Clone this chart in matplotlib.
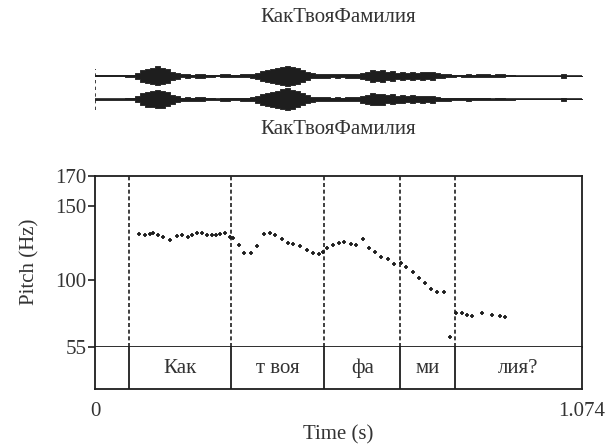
import numpy as np
import matplotlib
matplotlib.use("Agg")
import matplotlib.pyplot as plt

plt.rcParams['font.family'] = ['Liberation Serif', 'DejaVu Serif']

TITLE = "КакТвояФамилия"
T_MAX = 1.074

# pitch track (time s, Hz)
pitch_t = [0.098, 0.111, 0.122, 0.129, 0.140, 0.151, 0.166, 0.181, 0.192, 0.206,
           0.214, 0.225, 0.236, 0.248, 0.258, 0.267, 0.276, 0.287, 0.298, 0.304,
           0.317, 0.329, 0.344, 0.357, 0.372, 0.387, 0.398, 0.413, 0.427, 0.438,
           0.453, 0.468, 0.482, 0.494, 0.503, 0.512, 0.525, 0.538, 0.550, 0.565,
           0.577, 0.592, 0.604, 0.619, 0.631, 0.646, 0.661, 0.676, 0.687, 0.702,
           0.715, 0.729, 0.742, 0.755, 0.771, 0.783, 0.796, 0.810, 0.821, 0.833,
           0.855, 0.877, 0.893, 0.906]
pitch_hz = [130.9, 130.5, 130.9, 131.4, 130.5, 129.1, 126.9, 129.6, 130.3, 129.1,
            130.5, 131.4, 131.8, 130.3, 130.3, 130.5, 130.9, 131.4, 129.1, 128.0,
            123.6, 118.0, 118.4, 122.9, 130.9, 131.8, 130.3, 127.4, 125.1, 124.2,
            122.9, 120.2, 118.0, 117.5, 119.1, 121.3, 123.6, 125.1, 125.8, 124.2,
            123.6, 127.4, 121.3, 119.1, 115.7, 114.0, 110.8, 111.3, 109.0, 105.7,
            101.2, 97.9, 93.9, 92.3, 91.9, 62.1, 77.8, 77.8, 76.6, 76.0,
            78.2, 76.6, 76.0, 75.5]

# interval tier
boundaries = [0.0, 0.0751, 0.3006, 0.5061, 0.6740, 0.7956, 1.074]
labels = ["", "Как", "т воя", "фа", "ми", "лия?"]

# y ticks
yticks = [55, 100, 150, 170]
ymin, ymax = 55, 170

# waveform envelope (time s, relative amplitude) for two channels
env_t = [0.0, 0.066, 0.088, 0.099, 0.110, 0.122, 0.133, 0.144, 0.155, 0.166,
         0.177, 0.188, 0.199, 0.210, 0.221, 0.243, 0.265, 0.276, 0.298, 0.320,
         0.343, 0.354, 0.365, 0.376, 0.387, 0.398, 0.409, 0.420, 0.431, 0.442,
         0.453, 0.464, 0.475, 0.486, 0.519, 0.530, 0.541, 0.552, 0.586, 0.597,
         0.608, 0.619, 0.630, 0.641, 0.652, 0.663, 0.674, 0.685, 0.696, 0.707,
         0.718, 0.729, 0.740, 0.751, 0.762, 0.773, 0.785, 0.796, 0.807, 0.818,
         0.829, 0.840, 0.873, 0.884, 0.906, 0.928, 1.028, 1.039, 1.074]
env_ch1 = [0.03, 0.10, 0.30, 0.60, 0.70, 0.80, 0.95, 0.80, 0.70, 0.40,
           0.30, 0.15, 0.20, 0.10, 0.20, 0.10, 0.05, 0.15, 0.10, 0.15,
           0.20, 0.30, 0.50, 0.60, 0.70, 0.80, 0.90, 1.00, 0.90, 0.80,
           0.60, 0.40, 0.25, 0.20, 0.15, 0.20, 0.15, 0.20, 0.30, 0.40,
           0.60, 0.50, 0.60, 0.40, 0.50, 0.30, 0.40, 0.30, 0.40, 0.30,
           0.40, 0.35, 0.40, 0.25, 0.20, 0.15, 0.10, 0.05, 0.10, 0.15,
           0.10, 0.15, 0.10, 0.15, 0.05, 0.02, 0.20, 0.02, 0.02]
env_ch2 = [0.03, 0.10, 0.30, 0.60, 0.75, 0.80, 0.90, 0.85, 0.70, 0.45,
           0.30, 0.15, 0.20, 0.15, 0.20, 0.10, 0.05, 0.15, 0.10, 0.15,
           0.20, 0.35, 0.55, 0.65, 0.75, 0.85, 1.00, 1.10, 0.95, 0.80,
           0.60, 0.40, 0.25, 0.20, 0.15, 0.20, 0.15, 0.20, 0.35, 0.45,
           0.60, 0.55, 0.55, 0.40, 0.50, 0.35, 0.40, 0.30, 0.40, 0.30,
           0.35, 0.30, 0.35, 0.20, 0.15, 0.15, 0.10, 0.10, 0.10, 0.15,
           0.10, 0.10, 0.05, 0.10, 0.05, 0.02, 0.15, 0.02, 0.02]

INK = "#1e1e1e"
TXT = "#333333"
FS = 15

W, H = 607, 445
fig = plt.figure(figsize=(W / 100, H / 100), dpi=100)

def fbox(x0, y0, x1, y1):
    return [x0 / W, 1 - y1 / H, (x1 - x0) / W, (y1 - y0) / H]

# --- waveform ---
axw = fig.add_axes(fbox(95, 63, 581.5, 112))
axw.set_xlim(0, T_MAX)
axw.set_ylim(-2.08, 2.08)
axw.axis("off")
scale = 0.85
for off, env in ((1.0, env_ch1), (-1.0, env_ch2)):
    e = np.array(env) * scale
    axw.fill_between(env_t, off - e, off + e, step="post", color=INK, lw=0.6,
                     edgecolor=INK)
    axw.plot([0, T_MAX], [off, off], color=INK, lw=1.2)
axw.plot([0, 0], [-1.9, 1.6], color=INK, lw=1.2, ls=(0, (2, 2)))

fig.text(338 / W, 1 - 18 / H, TITLE, ha="center", va="center", fontsize=FS, color=TXT)
fig.text(338 / W, 1 - 129 / H, TITLE, ha="center", va="center", fontsize=FS, color=TXT)

# --- pitch ---
axp = fig.add_axes(fbox(95, 175.7, 581.5, 347.3))
axp.set_xlim(0, T_MAX)
axp.set_ylim(ymin, ymax)
for b in boundaries[1:-1]:
    axp.plot([b, b], [ymin, ymax], color=INK, lw=1.2, ls=(0, (2.4, 1.6)))
axp.plot(pitch_t, pitch_hz, ls="none", marker="+", ms=3.5, mew=1.3, color=INK)
axp.set_xticks([])
axp.set_yticks(yticks)
axp.set_yticklabels([str(v) for v in yticks])
axp.tick_params(axis="y", direction="out", length=5, width=1.2, pad=1,
                labelsize=FS, colors=INK, labelcolor=TXT)
for s in axp.spines.values():
    s.set_color(INK)
    s.set_linewidth(1.3)

# --- tier ---
axt = fig.add_axes(fbox(95, 347.3, 581.5, 389.3))
axt.set_xlim(0, T_MAX)
axt.set_ylim(0, 1)
axt.spines["top"].set_visible(False)
for s in ("left", "right", "bottom"):
    axt.spines[s].set_color(INK)
    axt.spines[s].set_linewidth(1.3)
for b in boundaries[1:-1]:
    axt.plot([b, b], [0, 1], color=INK, lw=1.3)
for i, lab in enumerate(labels):
    if lab:
        mid = (boundaries[i] + boundaries[i + 1]) / 2
        axt.text(mid, 0.5, lab, ha="center", va="center", fontsize=FS, color=TXT)
axt.set_yticks([])
axt.set_xticks([0, T_MAX])
axt.set_xticklabels(["0", "1.074"])
axt.tick_params(axis="x", length=0, pad=9, labelsize=FS, labelcolor=TXT)

fig.text(338 / W, 1 - 435 / H, "Time (s)", ha="center", va="center", fontsize=FS, color=TXT)
fig.text(30 / W, 1 - 262 / H, "Pitch (Hz)", ha="center", va="center", rotation=90,
         fontsize=FS, color=TXT)

fig.savefig("out.png", dpi=100)
